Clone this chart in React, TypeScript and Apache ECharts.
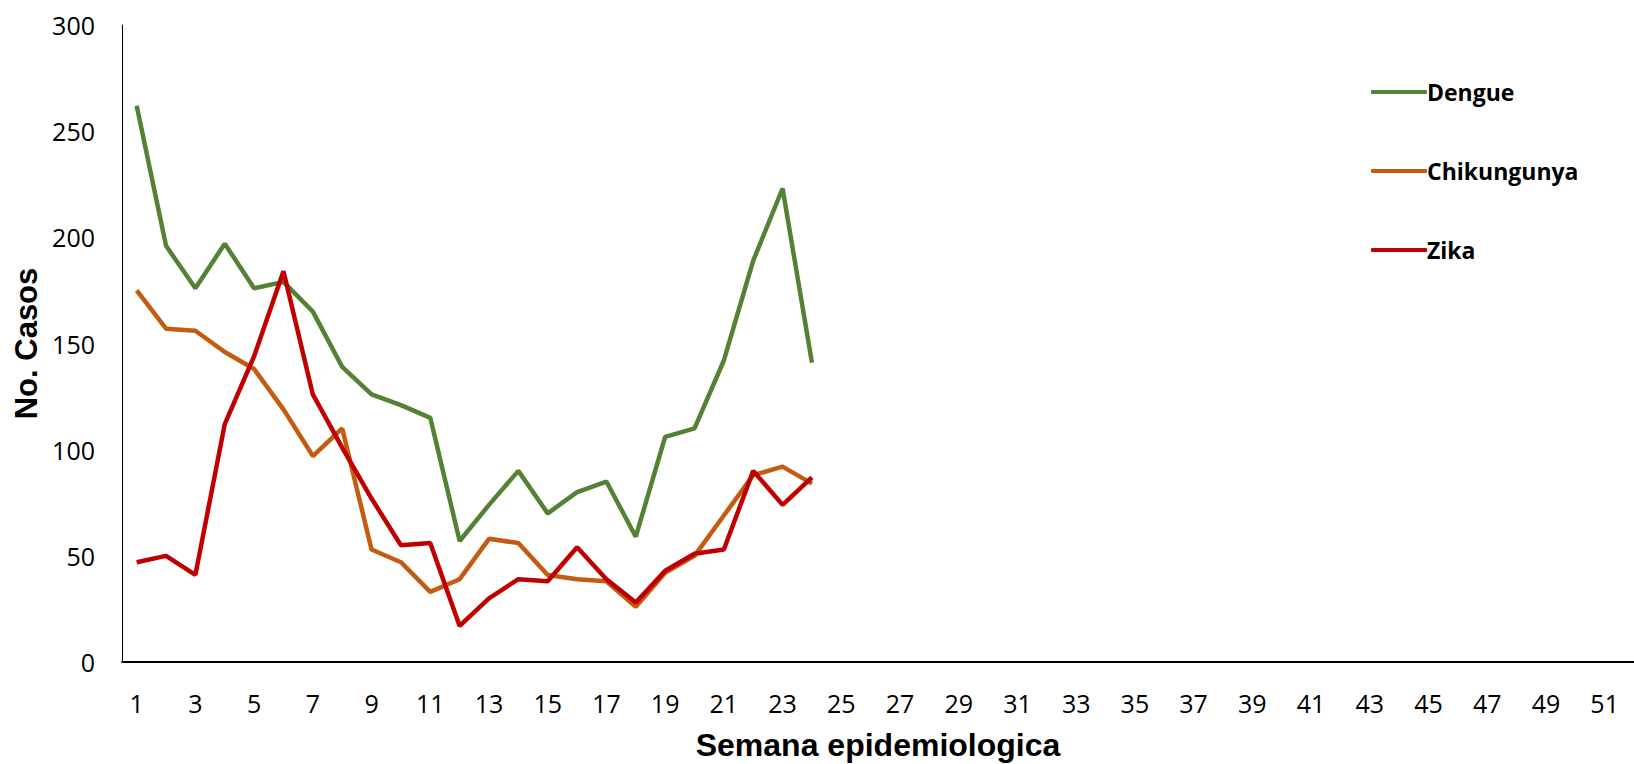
import React, { useEffect, useRef } from "react";
import * as echarts from "echarts";

const weeks = [1, 2, 3, 4, 5, 6, 7, 8, 9, 10, 11, 12, 13, 14, 15, 16, 17, 18, 19, 20, 21, 22, 23, 24];
const dengue = [262, 196, 176, 197, 176, 179, 165, 139, 126, 121, 115, 57, 74, 90, 70, 80, 85, 59, 106, 110, 142, 189, 223, 141];
const chikungunya = [175, 157, 156, 146, 138, 119, 97, 110, 53, 47, 33, 39, 58, 56, 41, 39, 38, 26, 42, 50, 69, 88, 92, 84];
const zika = [47, 50, 41, 112, 144, 184, 126, 101, 77, 55, 56, 17, 30, 39, 38, 54, 39, 28, 43, 51, 53, 90, 74, 87];
const xTickLabels = [1, 3, 5, 7, 9, 11, 13, 15, 17, 19, 21, 23, 25, 27, 29, 31, 33, 35, 37, 39, 41, 43, 45, 47, 49, 51];
const seriesNames = ["Dengue", "Chikungunya", "Zika"];
const seriesColors = ["#548235", "#C55A11", "#C00000"];

const pairs = (vals: number[]) => weeks.map((w, i) => [w, vals[i]]);

export default function App() {
  const ref = useRef<HTMLDivElement>(null);
  useEffect(() => {
    document.body.style.margin = "0";
    if (!ref.current) return;
    const chart = echarts.init(ref.current, null, { renderer: "svg" });
    const allData = [dengue, chikungunya, zika];
    chart.setOption({
      animation: false,
      backgroundColor: "#ffffff",
      grid: { left: 122, right: 0, top: 25, bottom: 102, containLabel: false, outerBoundsMode: "none" },
      legend: {
        orient: "vertical",
        left: 1366,
        top: 72,
        itemWidth: 56,
        itemHeight: 4,
        itemGap: 49,
        icon: "roundRect",
        data: seriesNames,
        textStyle: {
          fontFamily: "Open Sans",
          fontWeight: "bold",
          fontSize: 23,
          color: "#000",
          lineHeight: 30,
          padding: [0, 0, 0, -5],
        },
      },
      xAxis: {
        type: "value",
        min: 0.5,
        max: 52,
        name: "Semana epidemiologica",
        nameLocation: "middle",
        nameGap: 66,
        nameMoveOverlap: false,
        nameTextStyle: {
          fontFamily: "Liberation Sans",
          fontWeight: "bold",
          fontSize: 32,
          lineHeight: 34,
          color: "#000",
        },
        axisLine: { show: true, lineStyle: { color: "#000", width: 2 } },
        axisTick: { show: false, customValues: xTickLabels },
        axisLabel: {
          customValues: xTickLabels,
          margin: 28,
          fontFamily: "Open Sans",
          fontSize: 25,
          color: "#000",
        },
        splitLine: { show: false },
      },
      yAxis: {
        type: "value",
        min: 0,
        max: 300,
        interval: 50,
        name: "No. Casos",
        nameLocation: "middle",
        nameGap: 80,
        nameMoveOverlap: false,
        nameTextStyle: { fontFamily: "Liberation Sans", fontWeight: "bold", fontSize: 31, color: "#000" },
        axisLine: { show: true, lineStyle: { color: "#000", width: 1 } },
        axisTick: { show: false },
        axisLabel: { margin: 27, fontFamily: "Open Sans", fontSize: 25, color: "#000" },
        splitLine: { show: false },
      },
      series: seriesNames.map((name, i) => ({
        name,
        type: "line",
        data: pairs(allData[i]),
        showSymbol: false,
        symbol: "none",
        color: seriesColors[i],
        lineStyle: { color: seriesColors[i], width: 4.5 },
      })),
    });
    return () => chart.dispose();
  }, []);
  return <div ref={ref} style={{ position: "fixed", left: 0, top: 0, width: 1634, height: 764 }} />;
}
